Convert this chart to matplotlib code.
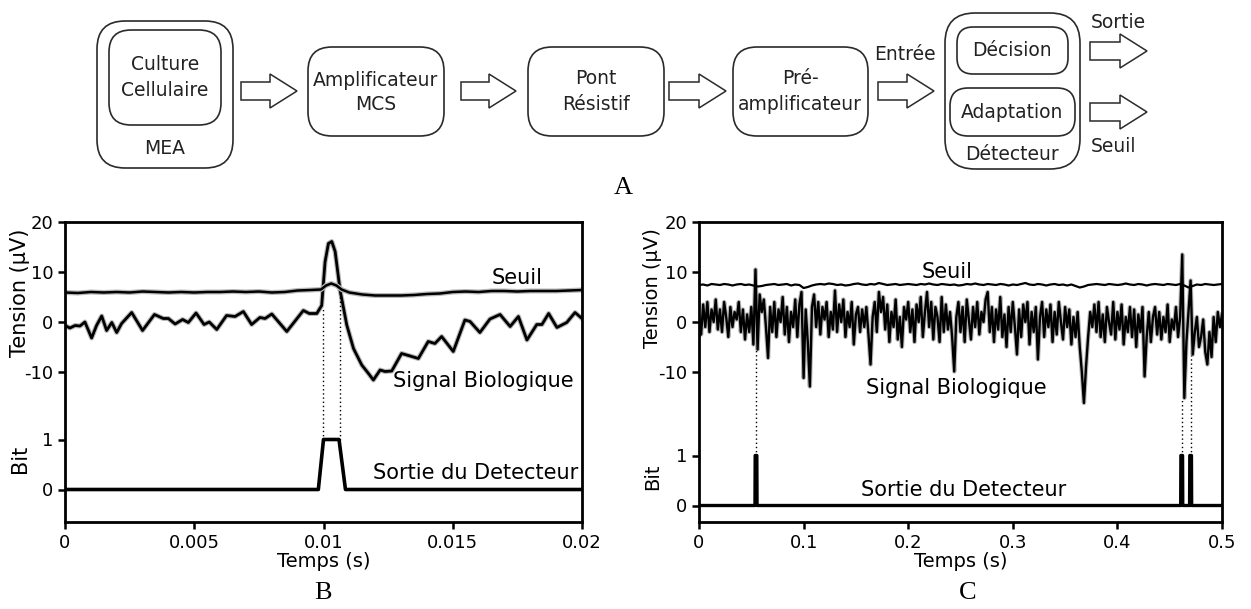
# -*- coding: utf-8 -*-
import matplotlib
matplotlib.use("Agg")
import matplotlib.pyplot as plt
import matplotlib.patheffects as pe
from matplotlib.patches import FancyBboxPatch, FancyArrow
import numpy as np

# ---------------- data, panel B (temps en ms, tension en uV) ----------------
t_sig_b_ms = [0.0, 0.19, 0.39, 0.58, 0.77, 1.03, 1.22, 1.42, 1.61, 1.81, 2.0, 2.19,
              2.58, 3.0, 3.46, 3.80, 4.00, 4.26, 4.55, 4.77, 5.07, 5.38, 5.58, 5.87,
              6.25, 6.58, 6.90, 7.22, 7.54, 7.74, 8.00, 8.58, 9.22, 9.45, 9.74, 9.93,
              10.06, 10.19, 10.32, 10.45, 10.64, 10.90, 11.16, 11.48, 11.74, 11.93,
              12.19, 12.38, 12.64, 13.02, 13.35, 13.67, 14.05, 14.31, 14.57, 15.02,
              15.47, 15.67, 16.05, 16.44, 16.83, 17.22, 17.54, 17.87, 18.25, 18.45,
              18.71, 19.03, 19.41, 19.73, 20.0]
sig_b = [-0.7, -1.2, -0.7, -0.8, 0.0, -3.2, -0.7, 1.2, -1.7, -0.1, -2.1, -0.3,
         1.9, -1.7, 1.5, 0.7, 0.7, -0.4, 0.5, -0.1, 1.8, -0.5, 0.0, -1.5,
         1.3, 1.1, 2.1, -0.5, 0.9, 0.7, 1.6, -1.9, 2.3, 1.7, 1.7, 3.3,
         12.0, 15.7, 16.1, 14.1, 6.4, -0.6, -5.3, -8.6, -10.3, -11.6,
         -9.6, -9.9, -9.8, -6.3, -6.8, -7.3, -3.9, -4.3, -2.9, -5.9,
         0.4, 0.1, -2.1, 0.6, 1.5, -0.9, 1.1, -3.6, -0.5, -0.5,
         1.7, -1.1, -0.1, 1.9, 0.7]

t_seuil_b_ms = [0, 0.5, 1, 1.5, 2, 2.5, 3, 3.5, 4, 4.5, 5, 5.5, 6, 6.5, 7, 7.5, 8, 8.5,
                9, 9.5, 9.9, 10.1, 10.3, 10.5, 10.7, 11.0, 11.5, 12, 12.5, 13, 13.5,
                14, 14.5, 15, 15.5, 16, 16.5, 17, 17.5, 18, 18.5, 19, 19.5, 20]
seuil_b = [5.9, 5.8, 6.0, 5.9, 6.0, 5.9, 6.1, 6.0, 5.9, 6.0, 5.9, 6.0, 6.0, 6.1, 6.0,
           6.1, 5.9, 6.0, 6.3, 6.4, 6.5, 7.3, 7.7, 7.3, 6.5, 5.9, 5.5, 5.3, 5.3, 5.3,
           5.4, 5.6, 5.7, 6.0, 6.1, 6.0, 6.2, 6.2, 6.1, 6.2, 6.2, 6.2, 6.3, 6.4]

t_bit_b_ms = [0, 9.8, 10.0, 10.6, 10.85, 20]
bit_b = [0, 0, 1, 1, 0, 0]

det_b_ms = [9.98, 10.62]       # instants de detection
det_b_level = [3.0, 6.4]       # niveau du signal a ces instants

# ---------------- data, panel C (temps en s) ----------------
sig_c = [1.0, -2.5, 3.5, -1.0, 4.0, -2.0, 2.5, 0.0, 4.5, -1.5,
         2.5, -2.0, 4.0, 1.0, -3.0, 3.0, -1.0, 2.0, 0.5, 4.0,
         -2.0, 2.5, -3.5, 1.5, -2.0, 3.0, -4.5, 10.5, -5.5, 5.5,
         2.0, 4.5, -1.0, -7.2, 3.0, -2.0, 4.0, -3.0, 2.5, 0.0,
         5.0, -2.5, 3.0, -4.0, 2.0, -1.0, 4.5, -3.0, 3.5, 6.0,
         -11.2, 2.5, -4.0, -12.9, 3.0, 5.5, -1.0, 4.0, -2.5, 3.0,
         0.5, 4.0, -3.0, 2.0, -1.5, 6.3, -2.0, 3.5, 0.0, 4.5,
         -3.0, 2.0, -1.0, 4.0, -4.5, 1.5, 3.0, -2.0, 2.5, -1.0,
         3.0, -2.5, -8.5, 1.0, 4.0, -2.0, 6.0, 2.0, 5.0, -1.5,
         3.5, -4.0, 2.0, -1.0, 4.5, -3.5, 1.0, -5.0, 3.0, 0.5,
         4.0, -2.0, 2.5, -4.0, 3.5, 0.0, 5.0, -3.0, 2.0, 6.0,
         -1.0, 4.0, -3.5, 3.0, 1.0, -4.0, 5.0, -2.0, 3.5, -1.5,
         2.0, -3.0, -9.9, 1.0, 4.0, -2.0, 3.0, -4.0, 4.5, 0.5,
         -3.5, 3.0, -1.0, 4.0, -2.5, 2.0, 0.0, 4.5, 6.0, -2.0,
         3.0, -4.0, 2.5, -1.5, 5.0, -3.0, 1.5, -5.0, 3.0, -2.0,
         4.0, -1.0, -6.5, 2.5, -3.0, 3.5, 0.0, 4.0, -4.5, 2.0,
         -2.0, 3.0, -7.5, 1.0, 4.0, -3.0, 2.5, -1.0, 3.5, -4.0,
         2.0, -2.5, 4.0, 0.0, -3.5, 3.0, -1.0, 2.5, -4.5, 1.0,
         -3.0, 2.0, -5.0, -10.0, -16.2, -9.0, -3.0, 2.0, -1.0, 3.5,
         -2.0, 4.0, -3.0, 1.5, -4.0, 3.0, 0.0, -2.5, 4.0, -3.5,
         2.0, -1.5, 3.5, -4.5, 1.0, -2.0, 3.0, -3.0, 2.5, -5.0,
         1.5, -2.0, 3.0, -10.9, -3.0, 2.0, -4.0, 1.0, 3.0, -2.5,
         2.0, -3.5, 1.0, -2.0, 3.5, -4.0, 0.5, -1.5, 3.0, -3.0,
         1.0, 13.5, -15.2, -4.0, 2.0, 8.3, -6.5, -2.0, 1.0, -5.0,
         -3.0, 0.5, -6.0, -8.5, -2.0, -7.0, 1.0, -4.0, 2.0, -1.0,
         1.5]
t_sig_c = np.linspace(0, 0.5, len(sig_c))

seuil_c = [7.4, 7.5, 7.3, 7.6, 7.5, 7.4, 7.6, 7.5, 7.3, 7.5,
           7.6, 7.4, 7.5, 7.3, 7.1, 7.2, 7.4, 7.5, 7.6, 7.4,
           7.5, 7.6, 7.3, 7.5, 7.4, 6.8, 7.0, 7.3, 7.5, 7.6,
           7.5, 7.7, 7.6, 7.4, 7.5, 7.3, 7.4, 7.6, 7.7, 7.5,
           7.4, 7.6, 7.5, 7.8, 7.6, 7.4, 7.5, 7.6, 7.4, 7.5,
           7.6, 7.5, 7.4, 7.6, 7.5, 7.7, 7.5, 7.4, 7.6, 7.5,
           7.4, 7.5, 7.3, 7.4, 7.6, 7.5, 7.7, 7.5, 7.4, 7.6,
           7.5, 7.4, 7.6, 7.5, 7.3, 7.5, 7.4, 7.6, 7.8, 7.5,
           7.4, 7.6, 7.5, 7.3, 7.5, 7.6, 7.4, 7.5, 7.3, 7.5,
           7.2, 6.9, 7.1, 7.4, 7.5, 7.6, 7.5, 7.4, 7.6, 7.5,
           7.4, 7.5, 7.7, 7.5, 7.4, 7.6, 7.5, 7.3, 7.5, 7.6,
           7.5, 7.4, 7.6, 7.5, 7.4, 7.6, 7.3, 6.9, 7.2, 7.5,
           7.4, 7.6, 7.5, 7.4, 7.5, 7.6]
t_seuil_c = np.linspace(0, 0.5, len(seuil_c))

t_bit_c = [0, 0.0535, 0.0537, 0.0553, 0.0555, 0.4605, 0.4607, 0.4623, 0.4625,
           0.4690, 0.4692, 0.4708, 0.4710, 0.5]
bit_c = [0, 0, 1, 1, 0, 0, 1, 1, 0, 0, 1, 1, 0, 0]

det_c = [0.0547, 0.4616, 0.4700]
det_c_level = [-5.5, -15.2, -6.5]

# decalage vertical de la trace "Bit" sous les tensions
bit_off_b = -33.5
bit_off_c = -36.7

W, H = 1251, 609
fig = plt.figure(figsize=(W / 100, H / 100), dpi=100)
fig.patch.set_facecolor('white')

glow = [pe.Stroke(linewidth=3.6, foreground='#b8b8b8'), pe.Normal()]
lab = 15


def setup(ax, off, xt, xl):
    ax.set_ylim(-40, 20)
    ax.set_yticks([20, 10, 0, -10, off + 10, off])
    ax.set_yticklabels(['20', '10', '0', '-10', '1', '0'], fontsize=13)
    ax.set_xticks(xt)
    ax.set_xticklabels(xl, fontsize=13)
    ax.set_xlim(xt[0], xt[-1])
    for s in ax.spines.values():
        s.set_linewidth(2)
    ax.tick_params(width=1.8, length=5)
    ax.set_xlabel('Temps (s)', fontsize=14, labelpad=0)


# ---- panel B
axB = fig.add_axes([65 / W, 1 - 522 / H, (582 - 65) / W, 300 / H])
tb = np.array(t_sig_b_ms) * 1e-3
axB.plot(tb, sig_b, color='black', lw=2.0, solid_joinstyle='round', path_effects=glow)
axB.plot(np.array(t_seuil_b_ms) * 1e-3, seuil_b, color='black', lw=1.8, path_effects=glow)
axB.plot(np.array(t_bit_b_ms) * 1e-3, np.array(bit_b) * 10 + bit_off_b, color='black', lw=2.6)
for t, lv in zip(det_b_ms, det_b_level):
    axB.plot([t * 1e-3, t * 1e-3], [bit_off_b + 10, lv], color='black', lw=1.0, ls=(0, (1, 2)))
setup(axB, bit_off_b, [0, 0.005, 0.01, 0.015, 0.02], ['0', '0.005', '0.01', '0.015', '0.02'])
axB.text(0.0175, 8.9, 'Seuil', fontsize=lab, ha='center', va='center')
axB.text(0.0162, -11.8, 'Signal Biologique', fontsize=lab, ha='center', va='center')
axB.text(0.0159, bit_off_b + 3.3, 'Sortie du Detecteur', fontsize=lab, ha='center', va='center')

# ---- panel C
axC = fig.add_axes([699 / W, 1 - 522 / H, (1222 - 699) / W, 300 / H])
axC.plot(t_sig_c, sig_c, color='black', lw=1.7,
         path_effects=[pe.Stroke(linewidth=3.2, foreground='#b8b8b8'), pe.Normal()])
axC.plot(t_seuil_c, seuil_c, color='black', lw=1.6)
axC.plot(t_bit_c, np.array(bit_c) * 10 + bit_off_c, color='black', lw=2.4)
for t, lv in zip(det_c, det_c_level):
    axC.plot([t, t], [bit_off_c + 10, lv], color='black', lw=1.0, ls=(0, (1, 2)))
setup(axC, bit_off_c, [0, 0.1, 0.2, 0.3, 0.4, 0.5], ['0', '0.1', '0.2', '0.3', '0.4', '0.5'])
axC.text(0.237, 10.1, 'Seuil', fontsize=lab, ha='center', va='center')
axC.text(0.246, -13.2, 'Signal Biologique', fontsize=lab, ha='center', va='center')
axC.text(0.253, bit_off_c + 3.2, 'Sortie du Detecteur', fontsize=lab, ha='center', va='center')

# axis titles
fig.text(20 / W, 1 - 293 / H, 'Tension (µV)', rotation=90, fontsize=15, ha='center', va='center')
fig.text(20 / W, 1 - 459 / H, 'Bit', rotation=90, fontsize=15, ha='center', va='center')
fig.text(653 / W, 1 - 288 / H, 'Tension (µV)', rotation=90, fontsize=14, ha='center', va='center')
fig.text(653 / W, 1 - 477 / H, 'Bit', rotation=90, fontsize=14, ha='center', va='center')

# ---- diagramme A (coordonnees en pixels, y vers le bas)
ov = fig.add_axes([0, 0, 1, 1], zorder=-1)
ov.set_xlim(0, W)
ov.set_ylim(H, 0)
ov.axis('off')

ec = '#2a2a2a'


def box(x0, y0, x1, y1, r):
    ov.add_patch(FancyBboxPatch((x0, y0), x1 - x0, y1 - y0,
                                boxstyle='round,pad=0,rounding_size=%d' % r,
                                fc='white', ec=ec, lw=1.2))


def arrow(x0, x1, y):
    ov.add_patch(FancyArrow(x0, y, x1 - x0, 0, width=18, head_width=34, head_length=27,
                            length_includes_head=True, fc='white', ec=ec, lw=1.1))


box(97, 21, 233, 168, 28)
box(109, 30, 221, 125, 22)
box(308, 47, 444, 136, 24)
box(528, 47, 664, 136, 24)
box(733, 47, 868, 136, 24)
box(945, 13, 1080, 169, 30)
box(957, 27, 1068, 74, 16)
box(950, 88, 1075, 136, 18)

for x0, x1, y in [(241, 297, 91), (461, 516, 91), (669, 726, 91), (878, 934, 91),
                  (1090, 1147, 51), (1090, 1147, 112)]:
    arrow(x0, x1, y)

fs = 13.5
tc = '#222222'
ov.text(165, 64, 'Culture', fontsize=fs, ha='center', va='center', color=tc)
ov.text(165, 91, 'Cellulaire', fontsize=fs, ha='center', va='center', color=tc)
ov.text(165, 149, 'MEA', fontsize=fs, ha='center', va='center', color=tc)
ov.text(376, 80, 'Amplificateur', fontsize=fs, ha='center', va='center', color=tc)
ov.text(376, 104, 'MCS', fontsize=fs, ha='center', va='center', color=tc)
ov.text(596, 78, 'Pont', fontsize=fs, ha='center', va='center', color=tc)
ov.text(596, 104, 'Résistif', fontsize=fs, ha='center', va='center', color=tc)
ov.text(800, 78, 'Pré-', fontsize=fs, ha='center', va='center', color=tc)
ov.text(800, 104, 'amplificateur', fontsize=fs, ha='center', va='center', color=tc)
ov.text(905, 55, 'Entrée', fontsize=fs, ha='center', va='center', color=tc)
ov.text(1012, 51, 'Décision', fontsize=fs, ha='center', va='center', color=tc)
ov.text(1012, 112, 'Adaptation', fontsize=fs, ha='center', va='center', color=tc)
ov.text(1012, 154, 'Détecteur', fontsize=fs, ha='center', va='center', color=tc)
ov.text(1118, 22, 'Sortie', fontsize=fs, ha='center', va='center', color=tc)
ov.text(1113, 147, 'Seuil', fontsize=fs, ha='center', va='center', color=tc)

serif = dict(fontsize=19, family='Liberation Serif', ha='center', va='center')
ov.text(623, 188, 'A', **serif)
ov.text(323, 593, 'B', **serif)
ov.text(968, 593, 'C', **serif)

fig.savefig('out.png', dpi=100)
